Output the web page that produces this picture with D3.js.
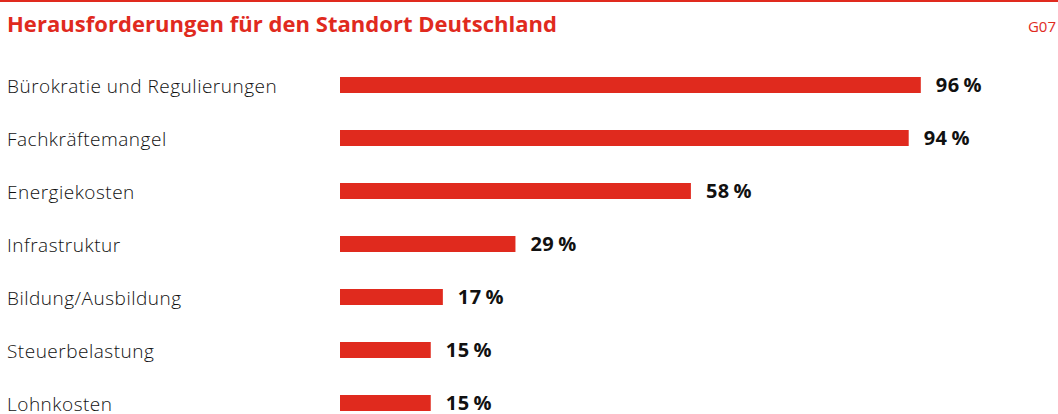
<!doctype html>
<html>
<head>
    <meta charset="utf-8">
    <style>
        body { margin: 0; background: #fff; }
        text { font-family: "Open Sans", "Noto Sans", sans-serif; }
        .bar { fill: #e02a1e; }
    </style>
    <script src="https://d3js.org/d3.v7.min.js"></script>
</head>
<body>
<svg width="1058" height="414"></svg>
<script>

    var categories = ["Bürokratie und Regulierungen", "Fachkräftemangel", "Energiekosten",
                      "Infrastruktur", "Bildung/Ausbildung", "Steuerbelastung", "Lohnkosten"];
    var values = [96, 94, 58, 29, 17, 15, 15];
    var title = "Herausforderungen für den Standort Deutschland";
    var chartId = "G07";

    var red = "#e02a1e";
    var svg = d3.select("svg"),
        width = +svg.attr("width");

    // top rule
    svg.append("rect")
        .attr("x", 0).attr("y", 0)
        .attr("width", width).attr("height", 2)
        .attr("fill", red);

    svg.append("text")
        .attr("x", 7)
        .attr("y", 32)
        .attr("fill", red)
        .attr("font-size", "22px")
        .attr("textLength", 550)
        .attr("lengthAdjust", "spacing")
        .attr("font-weight", "bold")
        .text(title);

    svg.append("text")
        .attr("x", 1056)
        .attr("y", 32)
        .attr("text-anchor", "end")
        .attr("fill", red)
        .attr("font-size", "15px")
        .text(chartId);

    var x = d3.scaleLinear().domain([0, 100]).range([340, 945]);
    var y = d3.scalePoint().domain(categories).range([85, 403]);
    var barH = 16;

    var data = categories.map(function(c, i) { return { cat: c, val: values[i] }; });

    var rows = svg.selectAll(".row")
        .data(data)
        .enter().append("g")
        .attr("class", "row");

    rows.append("text")
        .attr("x", 7)
        .attr("y", function(d) { return y(d.cat) + 7.5; })
        .attr("font-size", "19px")
        .attr("letter-spacing", "0.5px")
        .attr("font-weight", 300)
        .attr("fill", "#111")
        .text(function(d) { return d.cat; });

    rows.append("rect")
        .attr("class", "bar")
        .attr("x", x(0))
        .attr("y", function(d) { return y(d.cat) - barH / 2; })
        .attr("width", function(d) { return x(d.val) - x(0); })
        .attr("height", barH);

    rows.append("text")
        .attr("x", function(d) { return x(d.val) + 15; })
        .attr("y", function(d) { return y(d.cat) + 7; })
        .attr("font-size", "20px")
        .attr("letter-spacing", "0.5px")
        .attr("font-weight", "bold")
        .attr("fill", "#111")
        .text(function(d) { return d.val + "\u2009%"; });

</script>
</body>
</html>
